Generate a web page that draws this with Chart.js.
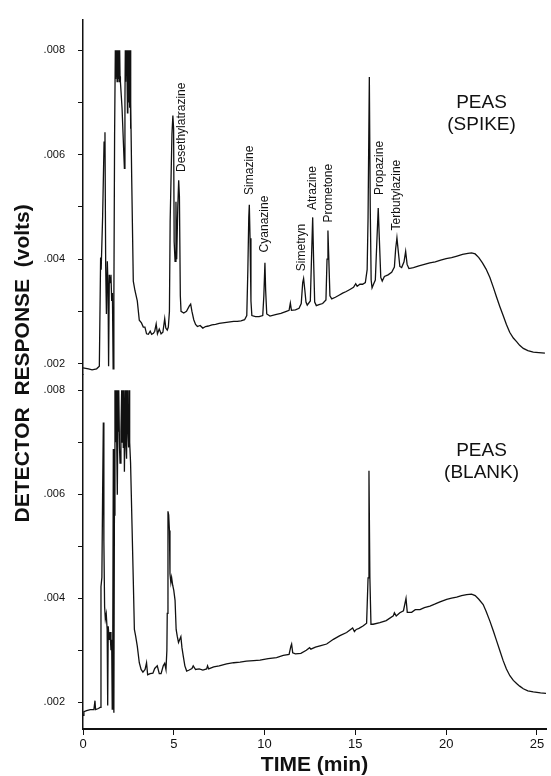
<!DOCTYPE html>
<html>
<head>
<meta charset="utf-8">
<script src="https://cdn.jsdelivr.net/npm/chart.js@4.4.1/dist/chart.umd.min.js"></script>
<style>
  html, body { margin: 0; padding: 0; background: #fff; }
  #wrap { position: relative; width: 551px; height: 776px; }
</style>
</head>
<body>
<div id="wrap"><canvas id="c" width="551" height="776"></canvas></div>
<script>
// ---------- DATA ----------
const xTickValues = [0, 5, 10, 15, 20, 25];
const yTickValues = [0.002, 0.003, 0.004, 0.005, 0.006, 0.007, 0.008];
const yLabelValues = [0.002, 0.004, 0.006, 0.008];

// PEAS (SPIKE) chromatogram: time (min), response (volts)
const spikeTime = [0.00,0.30,0.50,0.75,0.90,0.97,1.00,1.08,1.16,1.21,1.25,1.29,1.34,1.38,1.41,1.45,1.50,1.54,1.58,1.62,1.66,1.70,1.74,1.78,1.80,1.82,1.84,1.86,1.88,1.90,1.92,1.94,1.96,1.98,2.00,2.02,2.04,2.06,2.15,2.28,2.31,2.33,2.35,2.37,2.40,2.42,2.45,2.47,2.49,2.51,2.53,2.55,2.57,2.59,2.61,2.63,2.64,2.68,2.77,2.86,2.99,3.10,3.22,3.32,3.41,3.50,3.60,3.70,3.78,3.88,3.95,4.03,4.10,4.20,4.30,4.40,4.50,4.56,4.64,4.70,4.76,4.80,4.90,4.95,4.99,5.02,5.07,5.12,5.16,5.22,5.27,5.31,5.36,5.40,5.55,5.70,5.85,5.93,6.00,6.10,6.20,6.30,6.45,6.60,6.75,6.90,7.10,7.30,7.50,7.70,7.90,8.10,8.30,8.50,8.70,8.90,9.02,9.08,9.13,9.16,9.20,9.25,9.30,9.50,9.70,9.90,9.96,10.02,10.06,10.12,10.30,10.60,10.90,11.20,11.35,11.42,11.48,11.70,11.90,12.02,12.10,12.15,12.22,12.28,12.35,12.52,12.60,12.65,12.70,12.76,12.85,13.00,13.20,13.38,13.44,13.49,13.53,13.60,13.70,13.90,14.10,14.30,14.50,14.70,14.90,15.02,15.10,15.25,15.40,15.55,15.65,15.70,15.77,15.82,15.87,15.92,16.00,16.10,16.18,16.26,16.32,16.40,16.48,16.60,16.80,17.00,17.15,17.22,17.29,17.35,17.45,17.55,17.68,17.77,17.85,17.95,18.20,18.50,18.80,19.10,19.40,19.70,20.00,20.30,20.60,20.90,21.20,21.40,21.60,21.80,22.00,22.20,22.41,22.60,22.78,22.96,23.14,23.32,23.50,23.70,23.88,24.05,24.25,24.50,24.80,25.10,25.44];
const spikeResp = [.00192,.00190,.00188,.00190,.00195,.00403,.00380,.00480,.00624,.00643,.00385,.00295,.00396,.00346,.00195,.00370,.00355,.00370,.00320,.00335,.00190,.00320,.00637,.00800,.00745,.00800,.00750,.00800,.00740,.00800,.00760,.00800,.00745,.00800,.00740,.00800,.00750,.00740,.00690,.00574,.00700,.00800,.00740,.00800,.00760,.00800,.00680,.00800,.00720,.00800,.00700,.00800,.00690,.00800,.00650,.00800,.00700,.00560,.00358,.00340,.00320,.00283,.00278,.00270,.00270,.00257,.00256,.00262,.00256,.00258,.00262,.00276,.00257,.00266,.00257,.00260,.00286,.00268,.00264,.00270,.00300,.00472,.00640,.00675,.00650,.00434,.00396,.00510,.00400,.00500,.00551,.00520,.00330,.00300,.00297,.00300,.00310,.00314,.00300,.00284,.00275,.00271,.00273,.00268,.00271,.00272,.00274,.00275,.00277,.00278,.00279,.00280,.00281,.00281,.00282,.00284,.00292,.00380,.00480,.00504,.00440,.00320,.00292,.00290,.00290,.00292,.00330,.00393,.00340,.00295,.00291,.00294,.00296,.00300,.00302,.00316,.00302,.00303,.00306,.00315,.00355,.00363,.00340,.00318,.00312,.00320,.00420,.00480,.00400,.00318,.00311,.00313,.00315,.00322,.00400,.00455,.00410,.00330,.00324,.00327,.00331,.00335,.00338,.00342,.00346,.00353,.00348,.00352,.00352,.00355,.00380,.00480,.00749,.00500,.00360,.00345,.00352,.00360,.00430,.00498,.00440,.00365,.00358,.00367,.00370,.00375,.00385,.00420,.00441,.00420,.00386,.00384,.00395,.00415,.00390,.00382,.00384,.00387,.00390,.00393,.00395,.00398,.00401,.00403,.00406,.00409,.00411,.00412,.00410,.00403,.00393,.00381,.00365,.00346,.00327,.00309,.00292,.00275,.00260,.00249,.00242,.00235,.00229,.00225,.00222,.00221,.00220];

// PEAS (BLANK) chromatogram: time (min), response (volts)
const blankTime = [0.00,0.05,0.20,0.40,0.60,0.66,0.69,0.85,0.94,0.99,1.04,1.08,1.12,1.15,1.19,1.23,1.28,1.33,1.36,1.39,1.44,1.49,1.54,1.58,1.61,1.64,1.67,1.70,1.73,1.76,1.79,1.82,1.86,1.89,1.93,1.96,1.98,2.01,2.04,2.09,2.13,2.16,2.18,2.22,2.25,2.28,2.33,2.36,2.40,2.43,2.46,2.51,2.54,2.57,2.62,2.66,2.70,2.77,2.83,2.90,2.99,3.10,3.20,3.30,3.42,3.50,3.56,3.70,3.85,3.95,4.09,4.20,4.30,4.42,4.50,4.57,4.62,4.64,4.68,4.72,4.76,4.79,4.84,4.88,4.94,5.00,5.07,5.13,5.19,5.26,5.32,5.39,5.45,5.52,5.61,5.71,5.85,6.00,6.07,6.20,6.40,6.60,6.81,6.86,6.92,7.20,7.50,7.91,8.30,8.65,9.00,9.40,9.75,10.20,10.66,11.03,11.35,11.45,11.49,11.55,11.70,12.00,12.30,12.48,12.55,12.80,13.10,13.42,13.79,14.15,14.52,14.85,14.95,15.05,15.20,15.44,15.62,15.70,15.75,15.80,15.86,15.98,16.35,16.70,17.09,17.15,17.25,17.45,17.65,17.79,17.86,18.10,18.30,18.56,18.80,19.11,19.40,19.66,20.03,20.30,20.58,20.85,21.13,21.40,21.60,21.80,22.04,22.20,22.41,22.60,22.78,22.96,23.14,23.32,23.51,23.70,23.88,24.05,24.25,24.50,24.80,25.20,25.50];
const blankResp = [.00175,.00182,.00184,.00186,.00186,.00203,.00186,.00188,.00190,.00422,.00440,.00600,.00738,.00510,.00384,.00360,.00370,.00340,.00194,.00346,.00320,.00335,.00300,.00320,.00187,.00330,.00687,.00180,.00560,.00800,.00700,.00800,.00690,.00599,.00800,.00720,.00800,.00690,.00660,.00720,.00800,.00700,.00800,.00690,.00800,.00643,.00800,.00700,.00668,.00800,.00740,.00690,.00800,.00700,.00660,.00600,.00540,.00434,.00340,.00327,.00308,.00276,.00263,.00258,.00263,.00276,.00253,.00255,.00256,.00265,.00270,.00255,.00255,.00270,.00275,.00263,.00300,.00371,.00567,.00560,.00530,.00447,.00430,.00440,.00425,.00415,.00396,.00340,.00327,.00315,.00320,.00326,.00305,.00289,.00270,.00260,.00262,.00265,.00270,.00263,.00264,.00262,.00264,.00270,.00264,.00268,.00270,.00274,.00276,.00277,.00279,.00280,.00281,.00284,.00286,.00290,.00292,.00308,.00312,.00295,.00293,.00294,.00300,.00305,.00302,.00306,.00309,.00312,.00321,.00328,.00334,.00343,.00336,.00340,.00342,.00347,.00352,.00439,.00645,.00440,.00350,.00350,.00353,.00357,.00366,.00372,.00366,.00372,.00376,.003995,.00373,.00373,.00378,.00378,.00382,.00385,.00389,.00393,.00398,.00400,.00402,.00405,.00407,.00408,.00405,.00398,.00388,.00375,.00356,.00337,.00318,.00299,.00280,.00264,.00251,.00242,.00236,.00231,.00226,.00222,.00220,.00218,.00217];

// Peak labels on the spiked chromatogram
const peakNames = ['Desethylatrazine','Simazine','Cyanazine','Simetryn','Atrazine','Prometone','Propazine','Terbutylazine'];
const peakLabelTime = [5.45, 9.20, 10.02, 12.06, 12.67, 13.55, 16.35, 17.27];
const peakLabelResp = [.00567, .00523, .00413, .00377, .00494, .00470, .00523, .00455];

const sampleLabels = [['PEAS','(SPIKE)'], ['PEAS','(BLANK)']];
const xTitle = 'TIME (min)';
const yTitle = 'DETECTOR  RESPONSE  (volts)';

// ---------- CHART ----------
const FONT = '"Liberation Sans", Arial, Helvetica, sans-serif';
const INK = '#111';

function yLabel(v) {
  return yLabelValues.some(l => Math.abs(l - v) < 1e-9)
    ? '.' + String(Math.round(v * 1000)).padStart(3, '0') : '';
}
const yAxisCommon = (min, max) => ({
  type: 'linear', position: 'left', stack: 'v', stackWeight: 1,
  min, max,
  afterFit(s) { s.width = 83; },
  afterBuildTicks(s) { s.ticks = yTickValues.map(v => ({ value: v })); },
  ticks: { autoSkip: false, color: INK, padding: 13,
           font: { family: FONT, size: 11 }, callback: yLabel },
  grid: { drawOnChartArea: false, drawTicks: true, tickLength: 5, color: INK, lineWidth: 1 },
  border: { display: true, color: INK, width: 1.5 }
});

const annot = {
  id: 'annot',
  afterDraw(chart) {
    const { ctx, chartArea } = chart;
    const xs = chart.scales.x, yt = chart.scales.yTop, yb = chart.scales.yBot;
    ctx.save();
    ctx.fillStyle = INK;
    ctx.font = '12px ' + FONT;
    ctx.textAlign = 'left';
    ctx.textBaseline = 'middle';
    peakNames.forEach((n, i) => {
      const x = xs.getPixelForValue(peakLabelTime[i]);
      const y = yt.getPixelForValue(peakLabelResp[i]);
      ctx.save();
      ctx.translate(x, y);
      ctx.rotate(-Math.PI / 2);
      ctx.fillText(n, 0, 0);
      ctx.restore();
    });
    ctx.font = '19px ' + FONT;
    ctx.textAlign = 'center';
    const cx = xs.getPixelForValue(21.95);
    [[yt, 0.00699], [yb, 0.00684]].forEach(([sc, v], i) => {
      const y = sc.getPixelForValue(v);
      ctx.fillText(sampleLabels[i][0], cx, y);
      ctx.fillText(sampleLabels[i][1], cx, y + 22);
    });
    ctx.font = 'bold 21px ' + FONT;
    ctx.save();
    ctx.translate(23, (chartArea.top + chartArea.bottom) / 2 - 11);
    ctx.rotate(-Math.PI / 2);
    ctx.fillText(yTitle, 0, 0);
    ctx.restore();
    ctx.restore();
  }
};

new Chart(document.getElementById('c'), {
  type: 'line',
  data: {
    datasets: [
      { label: 'PEAS (SPIKE)', yAxisID: 'yTop',
        data: spikeTime.map((t, i) => ({ x: t, y: spikeResp[i] })),
        borderColor: INK, borderWidth: 1.3, pointRadius: 0, tension: 0, fill: false },
      { label: 'PEAS (BLANK)', yAxisID: 'yBot',
        data: blankTime.map((t, i) => ({ x: t, y: blankResp[i] })),
        borderColor: INK, borderWidth: 1.3, pointRadius: 0, tension: 0, fill: false }
    ]
  },
  options: {
    responsive: false,
    animation: false,
    devicePixelRatio: 1,
    layout: { padding: { left: 0, top: 13, right: 5, bottom: 0 } },
    plugins: { legend: { display: false }, tooltip: { enabled: false }, title: { display: false } },
    scales: {
      x: {
        type: 'linear', position: 'bottom', min: 0, max: 25.5,
        afterFit(s) { s.height = 47; },
        afterBuildTicks(s) { s.ticks = xTickValues.map(v => ({ value: v })); },
        ticks: { color: INK, padding: 2, maxRotation: 0, autoSkip: false,
                 font: { family: FONT, size: 13 } },
        grid: { drawOnChartArea: false, drawTicks: true, tickLength: 6, color: INK, lineWidth: 1 },
        border: { display: true, color: INK, width: 2 },
        title: { display: true, text: xTitle, color: INK,
                 font: { family: FONT, size: 21, weight: 'bold', lineHeight: 1 },
                 padding: { top: 0, bottom: 0 } }
      },
      yBot: yAxisCommon(0.001486, 0.008305),
      yTop: yAxisCommon(0.001795, 0.008588)
    }
  },
  plugins: [annot]
});
</script>
</body>
</html>
